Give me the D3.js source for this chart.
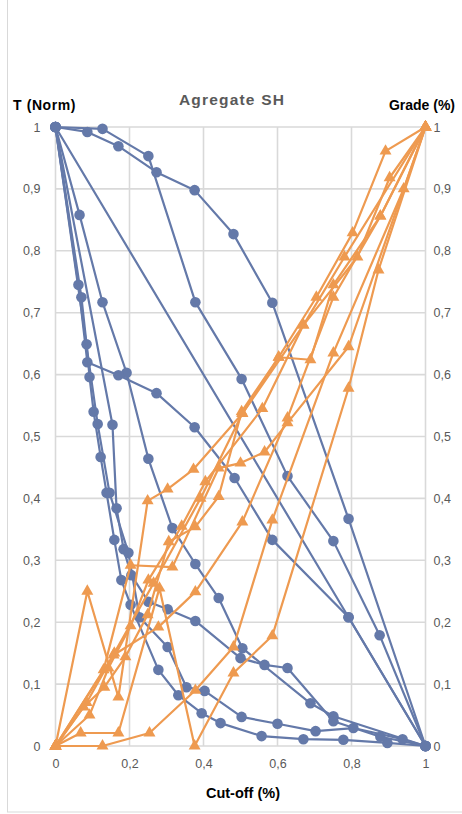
<!DOCTYPE html>
<html><head><meta charset="utf-8">
<script src="https://cdn.jsdelivr.net/npm/d3@7"></script>
<style>
html,body{margin:0;padding:0;background:#fff;}
svg{display:block;font-family:"Liberation Sans",Arial,sans-serif;}
</style></head>
<body>
<script>
// ---- data ----
const title = "Agregate SH";
const leftAxisTitle = "T (Norm)";
const rightAxisTitle = "Grade (%)";
const xAxisTitle = "Cut-off (%)";
const xTicks = [0, 0.2, 0.4, 0.6, 0.8, 1];
const yTicks = [0, 0.1, 0.2, 0.3, 0.4, 0.5, 0.6, 0.7, 0.8, 0.9, 1];

// tonnage (normalised) series: cut-off x, T y
const tonX1 = [0,0.086,0.170,0.273,0.376,0.481,0.586,0.792,1];
const tonY1 = [1,0.992,0.969,0.927,0.898,0.827,0.716,0.367,0];
const tonX2 = [0,0.127,0.251,0.378,0.503,0.627,0.751,0.876,1];
const tonY2 = [1,0.997,0.953,0.717,0.593,0.436,0.331,0.179,0];
const tonX3 = [0,0.792,1];
const tonY3 = [1,0.208,0];
const tonX4 = [0,0.065,0.127,0.192,0.251,0.316,0.378,0.441,0.505,0.689,0.751,1];
const tonY4 = [1,0.858,0.717,0.603,0.464,0.352,0.294,0.239,0.158,0.069,0.048,0];
const tonX5 = [0,0.062,0.086,0.170,0.273,0.376,0.484,0.586,0.792,1];
const tonY5 = [1,0.745,0.620,0.599,0.570,0.515,0.433,0.333,0.208,0];
const tonX6 = [0,0.070,0.084,0.092,0.103,0.122,0.138,0.159,0.178,0.203,0.278,0.332,0.395,0.446,0.557,0.670,0.778,0.897,1];
const tonY6 = [1,0.725,0.649,0.596,0.540,0.467,0.409,0.333,0.268,0.228,0.123,0.082,0.053,0.037,0.016,0.011,0.010,0.005,0];
const tonX7 = [0,0.154,0.165,0.184,0.205,0.251,0.303,0.378,0.500,0.565,0.627,0.751,0.878,1];
const tonY7 = [1,0.519,0.384,0.318,0.276,0.233,0.221,0.202,0.142,0.131,0.126,0.040,0.015,0];
const tonX8 = [0,0.114,0.146,0.197,0.227,0.303,0.354,0.403,0.503,0.600,0.703,0.805,0.938,1];
const tonY8 = [1,0.520,0.409,0.312,0.208,0.160,0.095,0.089,0.047,0.036,0.024,0.029,0.011,0];

// grade series: cut-off x, grade y
const grdX1 = [0,0.086,0.170,0.249,0.303,0.373,0.505,0.670,0.781,1];
const grdY1 = [0,0.250,0.079,0.396,0.415,0.447,0.537,0.680,0.790,1];
const grdX2 = [0,0.127,0.254,0.378,0.481,0.586,0.751,0.941,1];
const grdY2 = [0,0,0.021,0.090,0.160,0.365,0.635,0.900,1];
const grdX3 = [0,0.068,0.170,0.281,0.376,0.481,0.586,0.792,0.873,1];
const grdY3 = [0,0.021,0.021,0.255,0,0.118,0.178,0.578,0.769,1];
const grdX4 = [0,0.076,0.132,0.189,0.249,0.306,0.378,0.441,0.503,0.603,0.705,0.803,0.892,1];
const grdY4 = [0,0.063,0.095,0.144,0.212,0.330,0.354,0.403,0.540,0.628,0.725,0.829,0.961,1];
const grdX5 = [0,0.092,0.143,0.203,0.251,0.341,0.405,0.559,0.670,0.816,0.903,1];
const grdY5 = [0,0.050,0.126,0.194,0.268,0.355,0.427,0.545,0.680,0.790,0.918,1];
const grdX6 = [0,0.157,0.278,0.378,0.505,0.627,0.751,0.878,1];
const grdY6 = [0,0.147,0.192,0.249,0.362,0.530,0.725,0.856,1];
const grdX7 = [0,0.130,0.203,0.316,0.441,0.500,0.565,0.627,0.792,1];
const grdY7 = [0,0.123,0.292,0.289,0.449,0.457,0.475,0.522,0.645,1];
const grdX8 = [0,0.084,0.159,0.265,0.392,0.505,0.603,0.689,0.751,0.878,1];
const grdY8 = [0,0.070,0.150,0.263,0.400,0.537,0.628,0.624,0.745,0.856,1];

const tonSeries = [[tonX1,tonY1],[tonX2,tonY2],[tonX3,tonY3],[tonX4,tonY4],[tonX5,tonY5],[tonX6,tonY6],[tonX7,tonY7],[tonX8,tonY8]];
const grdSeries = [[grdX1,grdY1],[grdX2,grdY2],[grdX3,grdY3],[grdX4,grdY4],[grdX5,grdY5],[grdX6,grdY6],[grdX7,grdY7],[grdX8,grdY8]];

// ---- drawing ----
const W = 462, H = 814;
const blue = "#6479A9", orange = "#EE9A50", grid = "#D9D9D9", txt = "#595959";
const svg = d3.select("body").append("svg").attr("width", W).attr("height", H);

svg.append("rect").attr("x", 7.5).attr("y", -2).attr("width", 470).attr("height", 814)
  .attr("fill", "#fff").attr("stroke", grid).attr("stroke-width", 1);

const x = d3.scaleLinear().domain([0, 1]).range([55.5, 425.5]);
const yL = d3.scaleLinear().domain([0, 1]).range([746, 127]);
const yR = d3.scaleLinear().domain([0, 1]).range([746, 127]);
const fmt = d => String(+d.toFixed(1)).replace(".", ",");

// gridlines
const g = svg.append("g");
g.selectAll("line.h").data(yTicks).join("line")
  .attr("x1", x(0)).attr("x2", x(1)).attr("y1", d => yL(d)).attr("y2", d => yL(d))
  .attr("stroke", grid).attr("stroke-width", 1.6);
g.selectAll("line.v").data(xTicks).join("line")
  .attr("y1", yL(0)).attr("y2", yL(1)).attr("x1", d => x(d)).attr("x2", d => x(d))
  .attr("stroke", grid).attr("stroke-width", 1.6);

// axes (labels only, Excel-like)
const axL = svg.append("g").attr("transform", `translate(${x(0)},0)`)
  .call(d3.axisLeft(yL).tickValues(yTicks).tickFormat(fmt).tickSize(0).tickPadding(15));
const axR = svg.append("g").attr("transform", `translate(${x(1)},0)`)
  .call(d3.axisRight(yR).tickValues(yTicks).tickFormat(fmt).tickSize(0).tickPadding(8));
const axB = svg.append("g").attr("transform", `translate(0,${yL(0)})`)
  .call(d3.axisBottom(x).tickValues(xTicks).tickFormat(fmt).tickSize(0).tickPadding(13));
[axL, axR, axB].forEach(a => {
  a.select(".domain").remove();
  a.selectAll("text").attr("fill", txt).style("font-size", "12.5px")
    .style("font-family", '"Liberation Sans",Arial,sans-serif');
});

// series
const line = d3.line();
const tri = d3.symbol().type(d3.symbolTriangle).size(62);

tonSeries.forEach(([xs, ys]) => {
  const pts = xs.map((v, i) => [x(v), yL(ys[i])]);
  svg.append("path").attr("d", line(pts)).attr("fill", "none")
    .attr("stroke", blue).attr("stroke-width", 2.2).attr("stroke-linejoin", "round");
  svg.append("g").selectAll("circle").data(pts).join("circle")
    .attr("cx", d => d[0]).attr("cy", d => d[1]).attr("r", 5.3).attr("fill", blue);
});
grdSeries.forEach(([xs, ys]) => {
  const pts = xs.map((v, i) => [x(v), yR(ys[i])]);
  svg.append("path").attr("d", line(pts)).attr("fill", "none")
    .attr("stroke", orange).attr("stroke-width", 2.2).attr("stroke-linejoin", "round");
  svg.append("g").selectAll("path").data(pts).join("path")
    .attr("d", tri).attr("transform", d => `translate(${d[0]},${d[1]})`).attr("fill", orange);
});

// titles
svg.append("text").attr("x", 232).attr("y", 105).attr("text-anchor", "middle")
  .attr("fill", txt).style("font-size", "15.5px").style("font-weight", "bold")
  .style("letter-spacing", "1.2px").text(title);
svg.append("text").attr("x", 13).attr("y", 110)
  .attr("fill", "#000").style("font-size", "14px").style("font-weight", "bold")
  .style("letter-spacing", "0.6px").text(leftAxisTitle);
svg.append("text").attr("x", 455).attr("y", 110).attr("text-anchor", "end")
  .attr("fill", "#000").style("font-size", "14px").style("font-weight", "bold").text(rightAxisTitle);
svg.append("text").attr("x", 243).attr("y", 798).attr("text-anchor", "middle")
  .attr("fill", "#000").style("font-size", "14.5px").style("font-weight", "bold").text(xAxisTitle);
</script>
</body></html>
